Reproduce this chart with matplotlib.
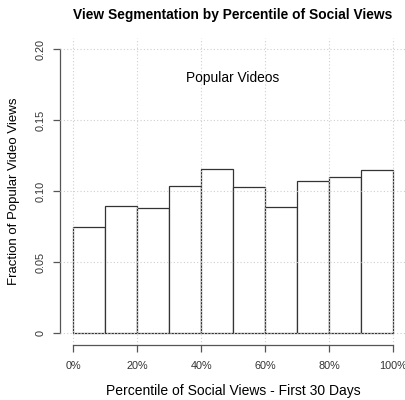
import matplotlib
matplotlib.use("Agg")
import matplotlib.pyplot as plt
import numpy as np

plt.rcParams['font.family'] = ['Liberation Sans', 'DejaVu Sans']

# Histogram bins (percentile of social views) and fraction of popular video views
bin_edges = [0.0, 0.1, 0.2, 0.3, 0.4, 0.5, 0.6, 0.7, 0.8, 0.9, 1.0]
fractions = [0.075, 0.090, 0.088, 0.104, 0.116, 0.103, 0.089, 0.107, 0.110, 0.115]

x_ticks = [0.0, 0.2, 0.4, 0.6, 0.8, 1.0]
x_tick_labels = ["0%", "20%", "40%", "60%", "80%", "100%"]
y_ticks = [0.0, 0.05, 0.10, 0.15, 0.20]
y_tick_labels = ["0", "0.05", "0.10", "0.15", "0.20"]

fig = plt.figure(figsize=(4.06, 4.00), dpi=100)
ax = fig.add_axes([0.149, 0.138, 0.850, 0.767])

lefts = np.array(bin_edges[:-1])
widths = np.diff(bin_edges)
ax.bar(lefts, fractions, width=widths, align='edge', color='white',
       edgecolor='#333333', linewidth=0.9, zorder=2)

# dotted reference grid drawn over the bars
for xv in x_ticks:
    ax.axvline(xv, color='#cfcfcf', linestyle=(0, (1, 2)), linewidth=0.8, zorder=3)
for yv in y_ticks:
    ax.axhline(yv, color='#cfcfcf', linestyle=(0, (1, 2)), linewidth=0.8, zorder=3)

ax.set_xlim(-0.04, 1.04)
ax.set_ylim(-0.008, 0.208)

for s in ['top', 'right']:
    ax.spines[s].set_visible(False)
ax.spines['left'].set_bounds(0, 0.2)
ax.spines['bottom'].set_bounds(0, 1)
for s in ['left', 'bottom']:
    ax.spines[s].set_color('#555555')
    ax.spines[s].set_linewidth(0.9)

ax.set_xticks(x_ticks)
ax.set_xticklabels(x_tick_labels, fontsize=7.8, color='#333333')
ax.set_yticks(y_ticks)
ax.set_yticklabels(y_tick_labels, fontsize=7.8, color='#333333', rotation=90, va='center')
ax.tick_params(axis='x', length=5, width=0.9, color='#555555', pad=7)
ax.tick_params(axis='y', length=5, width=0.9, color='#555555', pad=6)

ax.set_xlabel("Percentile of Social Views - First 30 Days", fontsize=10, labelpad=9)
ax.set_ylabel("Fraction of Popular Video Views", fontsize=9.5, labelpad=11)

ax.text(0.5, 0.18, "Popular Videos", ha='center', va='center', fontsize=9.9)

fig.text(0.574, 0.962, "View Segmentation by Percentile of Social Views",
         ha='center', va='center', fontsize=9.9, fontweight='bold')

fig.savefig("out.png", dpi=100, facecolor='white')
